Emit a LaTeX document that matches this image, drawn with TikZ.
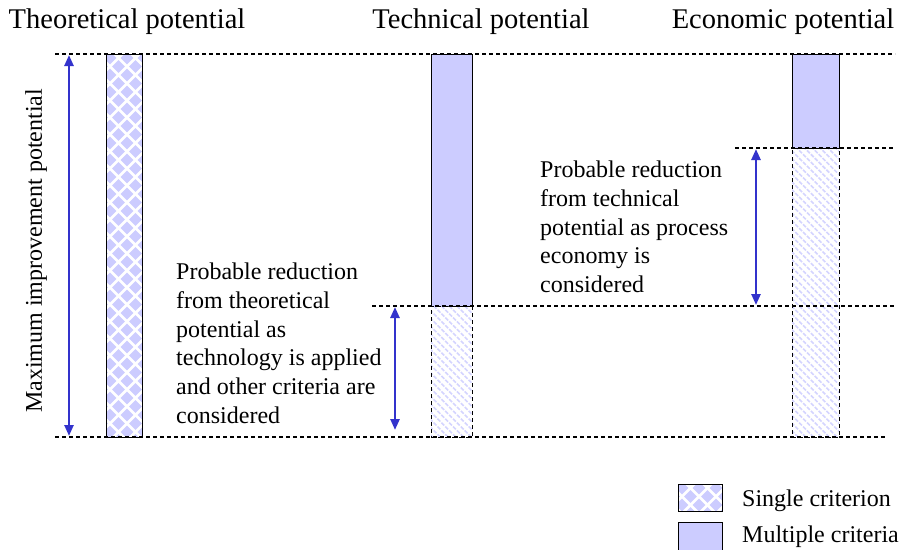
\documentclass[tikz,border=0pt]{standalone}
\usepackage{fontspec}
\setmainfont{Liberation Serif}
\usetikzlibrary{patterns.meta,arrows.meta}
\definecolor{lav}{RGB}{204,204,255}
\definecolor{arrblue}{RGB}{51,51,204}
\newcommand\ckfill[4]{% x1 y1 x2 y2
  \begin{scope}
    \clip (#1,#2) rectangle (#3,#4);
    \pgfmathtruncatemacro\nrows{(#4-#2)/8.5+2}
    \foreach \j in {0,...,\nrows}{
      \foreach \i in {-1,...,3}{
        \pgfmathsetmacro\cx{#1+4+17*\i+8.5*mod(\j,2)}
        \pgfmathsetmacro\cy{#2+4+8.5*\j}
        \fill[lav] (\cx-6.3,\cy) -- (\cx,\cy-6.3) -- (\cx+6.3,\cy) -- (\cx,\cy+6.3) -- cycle;
      }
    }
  \end{scope}}
\begin{document}
\begin{tikzpicture}[x=1pt,y=-1pt,
  titletext/.style={font=\fontsize{28.5}{34}\selectfont, inner sep=0pt, anchor=base},
  bodytext/.style={font=\fontsize{24}{28.7}\selectfont, inner sep=0pt, align=left, anchor=north west},
  guide/.style={line width=1.1pt, dash pattern=on 4pt off 3pt},
  solidbar/.style={draw=black, line width=1pt, fill=lav, rectangle, inner sep=0pt},
  checkbar/.style={draw=black, line width=1pt, rectangle, inner sep=0pt},
  hatchbar/.style={draw=black, line width=1pt, dash pattern=on 4pt off 3pt, rectangle, inner sep=0pt,
    pattern={Lines[angle=-45,distance=5.5pt,line width=1.6pt]}, pattern color=lav!85},
  dimarrow/.style={draw=arrblue, line width=2.4pt, {Triangle[length=11pt,width=9pt]}-{Triangle[length=11pt,width=9pt]}, shorten <=1pt, shorten >=1pt}
]
\useasboundingbox (0,0) rectangle (902,549);
\fill[white] (0,0) rectangle (902,549);

% guide lines
\coordinate (topL) at (55,54);   \coordinate (topR) at (895,54);
\coordinate (botL) at (55,437);  \coordinate (botR) at (885,437);
\coordinate (midL) at (372,306); \coordinate (midR) at (895,306);
\coordinate (ecoL) at (735,148); \coordinate (ecoR) at (895,148);

% theoretical bar
\ckfill{106}{54}{142}{437}
\node[checkbar, minimum width=36pt, minimum height=383pt] (theo) at (124,245.5) {};

% technical bars
\node[solidbar, minimum width=41pt, minimum height=252pt] (techsolid) at (451.5,180) {};
\node[hatchbar, minimum width=41pt, minimum height=131pt] (techhatch) at (451.5,371.5) {};

% economic bars
\node[hatchbar, minimum width=47pt, minimum height=289pt] (ecohatch) at (815.5,292.5) {};
\node[solidbar, minimum width=47pt, minimum height=94pt] (ecosolid) at (815.5,101) {};

\draw[guide] (topL) -- (topR);
\draw[guide] (botL) -- (botR);
\draw[guide] (midL) -- (midR);
\draw[guide] (ecoL) -- (ecoR);

% titles
\node[titletext] (t1) at (127,28.5) {Theoretical potential};
\node[titletext] (t2) at (481,28.5) {Technical potential};
\node[titletext] (t3) at (783,28.5) {Economic potential};

% arrows
\coordinate (a1t) at (69,54);  \coordinate (a1b) at (69,437);
\coordinate (a2t) at (395,306); \coordinate (a2b) at (395,431);
\coordinate (a3t) at (756,148); \coordinate (a3b) at (756,306);
\draw[dimarrow] (a1b) -- (a1t);
\draw[dimarrow] (a2b) -- (a2t);
\draw[dimarrow] (a3b) -- (a3t);

\node[font=\fontsize{24}{28.7}\selectfont, rotate=90, inner sep=0pt] (maxlab) at (36,251) {Maximum improvement potential};

\node[bodytext] (txt1) at (176,263) {Probable reduction\\from theoretical\\potential as\\technology is applied\\and other criteria are\\considered};
\node[bodytext] (txt2) at (540,161) {Probable reduction\\from technical\\potential as process\\economy is\\considered};

% legend
\ckfill{678}{484}{722}{511}
\node[checkbar, minimum width=44pt, minimum height=27pt] (leg1) at (700,497.5) {};
\node[solidbar, minimum width=44pt, minimum height=28pt] (leg2) at (700,536) {};
\node[font=\fontsize{24}{28.7}\selectfont, inner sep=0pt, anchor=base west] (leg1t) at (742,506) {Single criterion};
\node[font=\fontsize{24}{28.7}\selectfont, inner sep=0pt, anchor=base west] (leg2t) at (742,542) {Multiple criteria};
\end{tikzpicture}
\end{document}
